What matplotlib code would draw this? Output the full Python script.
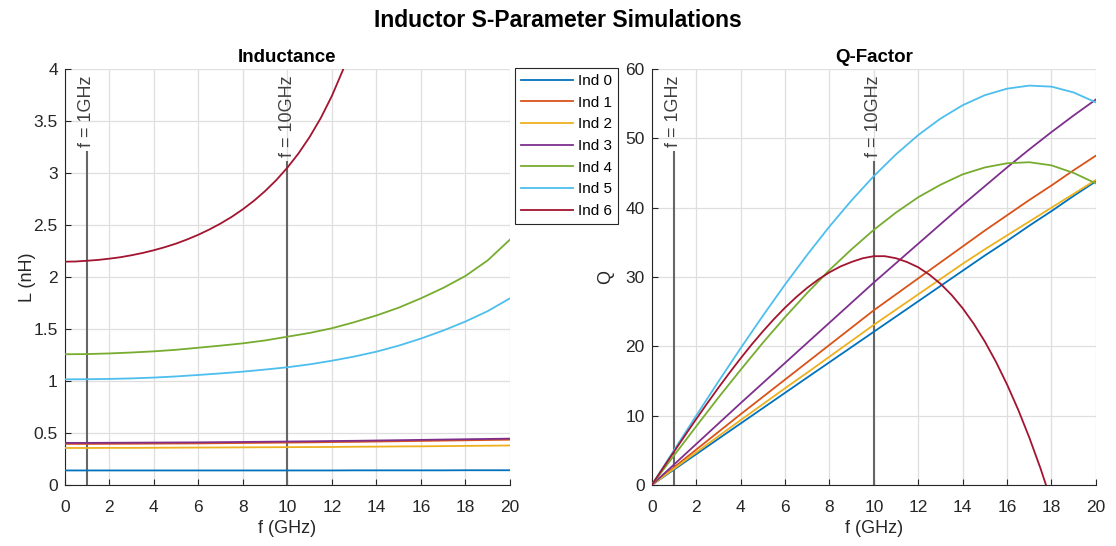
import matplotlib.pyplot as plt
import numpy as np
from matplotlib.ticker import FormatStrFormatter
import matplotlib.transforms as mtransforms

plt.rcParams['font.family'] = ['Liberation Sans', 'DejaVu Sans']

# frequency points (GHz)
freq = list(range(0, 21))
# finer grid for the strongly curved Ind 6 traces
freq6 = [x * 0.5 for x in range(0, 37)]

names = ["Ind 0", "Ind 1", "Ind 2", "Ind 3", "Ind 4", "Ind 5", "Ind 6"]
colors = ["#0072BD", "#D95319", "#EDB120", "#7E2F8E", "#77AC30", "#4DBEEE", "#A2142F"]

# inductance (nH)
L0 = [0.140, 0.140, 0.140, 0.140, 0.140, 0.140, 0.140, 0.140, 0.140, 0.140, 0.140,
      0.140, 0.140, 0.141, 0.141, 0.141, 0.141, 0.141, 0.142, 0.142, 0.142]
L1 = [0.395, 0.395, 0.396, 0.397, 0.398, 0.399, 0.400, 0.402, 0.404, 0.406, 0.408,
      0.410, 0.413, 0.415, 0.418, 0.421, 0.424, 0.427, 0.430, 0.433, 0.436]
L2 = [0.356, 0.356, 0.357, 0.357, 0.358, 0.359, 0.360, 0.361, 0.362, 0.363, 0.364,
      0.365, 0.366, 0.368, 0.369, 0.371, 0.372, 0.374, 0.376, 0.378, 0.380]
L3 = [0.405, 0.405, 0.406, 0.407, 0.408, 0.409, 0.410, 0.412, 0.414, 0.416, 0.418,
      0.420, 0.423, 0.425, 0.428, 0.431, 0.434, 0.437, 0.440, 0.443, 0.446]
L4 = [1.257, 1.259, 1.265, 1.274, 1.285, 1.300, 1.320, 1.340, 1.362, 1.390, 1.426,
      1.462, 1.507, 1.565, 1.630, 1.705, 1.795, 1.895, 2.010, 2.160, 2.360]
L5 = [1.016, 1.017, 1.020, 1.025, 1.033, 1.044, 1.058, 1.073, 1.090, 1.110, 1.132,
      1.160, 1.195, 1.235, 1.282, 1.340, 1.408, 1.485, 1.572, 1.672, 1.795]
L6 = [2.147, 2.149, 2.156, 2.164, 2.176, 2.190, 2.209, 2.231, 2.257, 2.287,
      2.321, 2.361, 2.406, 2.457, 2.514, 2.578, 2.651, 2.733, 2.826, 2.931,
      3.051, 3.188, 3.346, 3.528, 3.741, 3.992, 4.292,
      None, None, None, None, None, None, None, None, None, None]

# quality factor
Q0 = [0, 2.22, 4.44, 6.66, 8.87, 11.08, 13.29, 15.5, 17.7, 19.9, 22.1,
      24.3, 26.5, 28.7, 30.9, 33.1, 35.2, 37.4, 39.5, 41.7, 43.8]
Q1 = [0, 2.55, 5.1, 7.65, 10.2, 12.7, 15.2, 17.7, 20.2, 22.7, 25.2,
      27.5, 29.8, 32.1, 34.4, 36.7, 38.9, 41.1, 43.2, 45.4, 47.5]
Q2 = [0, 2.35, 4.7, 7.03, 9.35, 11.65, 13.95, 16.2, 18.5, 20.8, 23.1,
      25.3, 27.5, 29.7, 31.9, 34.0, 36.0, 38.0, 40.0, 42.0, 44.0]
Q3 = [0, 2.95, 5.9, 8.85, 11.8, 14.7, 17.6, 20.5, 23.4, 26.3, 29.2,
      32.0, 34.8, 37.6, 40.4, 43.1, 45.8, 48.4, 50.9, 53.3, 55.6]
Q4 = [0, 4.25, 8.45, 12.6, 16.6, 20.5, 24.2, 27.7, 31.0, 34.0, 36.8,
      39.3, 41.5, 43.3, 44.8, 45.8, 46.4, 46.55, 46.1, 45.0, 43.5]
Q5 = [0, 5.01, 9.99, 14.91, 19.72, 24.39, 28.9, 33.2, 37.27, 41.06, 44.55,
      47.69, 50.47, 52.84, 54.77, 56.22, 57.16, 57.6, 57.45, 56.61, 55.18]
Q6 = [0, 2.40, 4.79, 7.16, 9.50, 11.79, 14.02, 16.18, 18.26, 20.26,
      22.14, 23.92, 25.57, 27.08, 28.44, 29.64, 30.67, 31.52, 32.17, 32.70,
      33.00, 33.00, 32.70, 32.15, 31.40, 30.34, 29.03, 27.41, 25.49, 23.25,
      20.68, 17.76, 14.49, 10.86, 6.85, 2.44, -2.39]

L_data = [L0, L1, L2, L3, L4, L5, L6]
Q_data = [Q0, Q1, Q2, Q3, Q4, Q5, Q6]

markers_f = [1, 10]
marker_labels = ["f = 1GHz", "f = 10GHz"]

axis_col = "#262626"
xline_col = "#666666"

fig = plt.figure(figsize=(11.16, 5.46), dpi=100)
ax1 = fig.add_axes([0.058, 0.1117, 0.399, 0.762])
ax2 = fig.add_axes([0.584, 0.1117, 0.398, 0.762])

def arr(v):
    return np.array([np.nan if x is None else x for x in v], dtype=float)

for i, (name, c) in enumerate(zip(names, colors)):
    fx = freq6 if i == 6 else freq
    ax1.plot(fx, arr(L_data[i]), color=c, lw=1.3, label=name, zorder=3)
    ax2.plot(fx, arr(Q_data[i]), color=c, lw=1.3, label=name, zorder=3)

def style(ax, ymax, ystep, title, ylabel, ylpad):
    ax.set_xlim(0, 20)
    ax.set_ylim(0, ymax)
    ax.set_xticks(np.arange(0, 21, 2))
    ax.set_yticks(np.arange(0, ymax + 0.001, ystep))
    ax.yaxis.set_major_formatter(FormatStrFormatter('%g'))
    ax.grid(True, color="#dfdfdf", lw=0.9)
    ax.set_axisbelow(True)
    for s in ["top", "right"]:
        ax.spines[s].set_visible(False)
    for s in ["left", "bottom"]:
        ax.spines[s].set_color(axis_col)
        ax.spines[s].set_linewidth(0.8)
    ax.tick_params(direction="in", length=4, width=0.8, colors=axis_col,
                   labelsize=12.5, top=False, right=False)
    ax.tick_params(axis="x", pad=10.5)
    ax.tick_params(axis="y", pad=5)
    ax.set_title(title, fontsize=13.5, fontweight="bold", color="black", pad=5)
    ax.set_xlabel("f (GHz)", fontsize=13, color=axis_col, labelpad=4)
    ax.set_ylabel(ylabel, fontsize=13, color=axis_col, labelpad=ylpad)

style(ax1, 4, 0.5, "Inductance", "L (nH)", -2)
style(ax2, 60, 10, "Q-Factor", "Q", 8)

fig.suptitle("Inductor S-Parameter Simulations", fontsize=16.5, fontweight="bold", y=0.983)

# vertical frequency markers with labels on top
texts = []
for ax in [ax1, ax2]:
    trans = mtransforms.blended_transform_factory(ax.transData, ax.transAxes)
    for fm, lab in zip(markers_f, marker_labels):
        t = ax.text(fm, 0.985, lab, transform=trans, rotation=90, ha="center", va="top",
                    fontsize=13, color="#404040", zorder=4)
        texts.append((ax, fm, t))

fig.canvas.draw()
renderer = fig.canvas.get_renderer()
for ax, fm, t in texts:
    bb = t.get_window_extent(renderer)
    bottom = ax.transAxes.inverted().transform((bb.x0, bb.y0))[1]
    ax.axvline(fm, ymin=0, ymax=bottom - 0.012, color=xline_col, lw=1.5, zorder=2)

leg = ax1.legend(loc="upper left", bbox_to_anchor=(0.4615, 0.8755), bbox_transform=fig.transFigure,
                 fontsize=11, frameon=True, fancybox=False, framealpha=1,
                 edgecolor=axis_col, handlelength=3.4, handletextpad=0.3,
                 labelspacing=0.5, borderpad=0.4, borderaxespad=0)
leg.get_frame().set_linewidth(0.8)

fig.savefig("out.png", dpi=100)
